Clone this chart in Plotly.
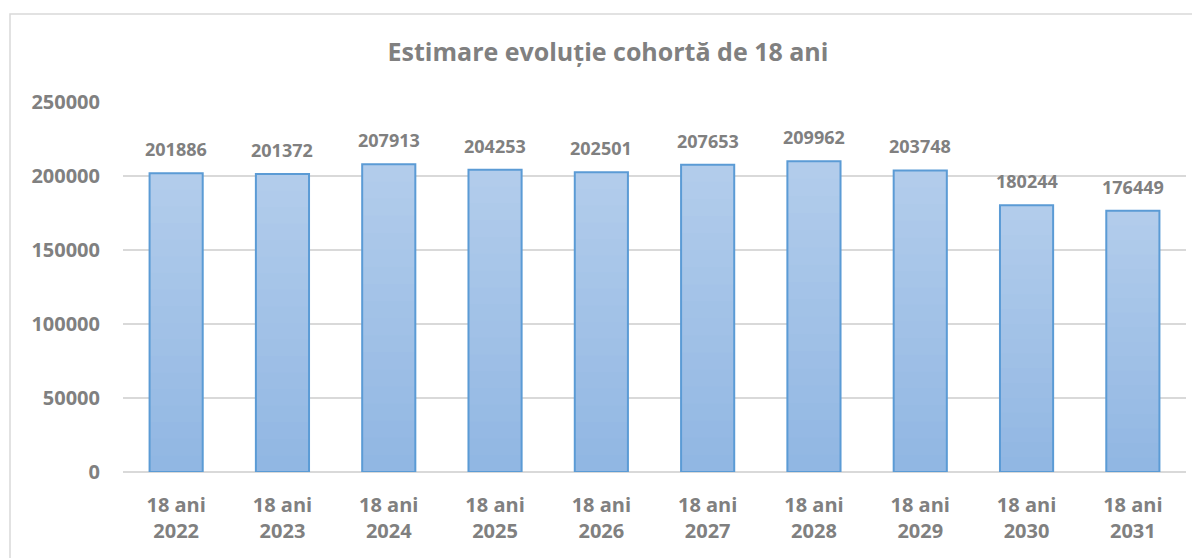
import plotly.graph_objects as go

categories = ["18 ani<br>2022", "18 ani<br>2023", "18 ani<br>2024", "18 ani<br>2025", "18 ani<br>2026",
              "18 ani<br>2027", "18 ani<br>2028", "18 ani<br>2029", "18 ani<br>2030", "18 ani<br>2031"]
values = [201886, 201372, 207913, 204253, 202501, 207653, 209962, 203748, 180244, 176449]
y_ticks = [0, 50000, 100000, 150000, 200000, 250000]

title_text = "Estimare evoluție cohortă de 18 ani"
gray = "#808080"
font_family = "Open Sans"

# gradient approximation: top color -> bottom color
top_rgb = (178, 204, 235)
bot_rgb = (145, 183, 227)
steps = 18

fig = go.Figure()
for k in range(steps):
    frac = 1 - k / steps
    t = k / (steps - 1)
    c = tuple(round(top_rgb[i] + (bot_rgb[i] - top_rgb[i]) * t) for i in range(3))
    fig.add_trace(go.Bar(
        x=categories, y=[v * frac for v in values],
        marker=dict(color="rgb(%d,%d,%d)" % c, line=dict(width=0)),
        width=0.5, hoverinfo="skip", showlegend=False,
    ))

fig.add_trace(go.Bar(
    x=categories, y=values,
    marker=dict(color="rgba(0,0,0,0)", line=dict(color="#5B9BD5", width=2)),
    width=0.5, showlegend=False,
))

annotations = [dict(x=c, y=v, xref="x", yref="y", text="<b>%d</b>" % v, showarrow=False,
                    yanchor="middle", yshift=24,
                    font=dict(family=font_family, size=18, color=gray))
               for c, v in zip(categories, values)]

L, T = 115, 94
PW, PH = 1063, 370
fig.update_layout(
    width=1200, height=558,
    barmode="overlay",
    paper_bgcolor="white", plot_bgcolor="white",
    margin=dict(l=L, r=1200 - L - PW, t=T, b=558 - T - PH),
    title=dict(text="<b>" + title_text + "</b>", x=0.5, xanchor="center", y=1 - 44 / 558, yanchor="middle",
               font=dict(family=font_family, size=25, color=gray)),
    font=dict(family=font_family, color=gray),
    annotations=annotations,
    shapes=[dict(type="rect", xref="paper", yref="paper",
                 x0=(2 - L) / PW, x1=1.05, y0=-0.4, y1=(T + PH - 6) / PH,
                 line=dict(color="#D9D9D9", width=1.5), fillcolor="rgba(0,0,0,0)", layer="below")],
)
fig.update_yaxes(range=[0, 250000], tickvals=y_ticks, ticktext=[str(t) for t in y_ticks],
                 showgrid=True, gridcolor="#D9D9D9", gridwidth=1.5,
                 zeroline=True, zerolinecolor="#D9D9D9", zerolinewidth=1.5,
                 showline=False, ticks="", ticklabelstandoff=22,
                 tickfont=dict(family=font_family, size=20, color=gray, weight="bold"))
fig.update_xaxes(showgrid=False, showline=False, ticks="", ticklabelstandoff=19,
                 tickfont=dict(family=font_family, size=20, color=gray, weight="bold"))

fig.write_html("out.html")
